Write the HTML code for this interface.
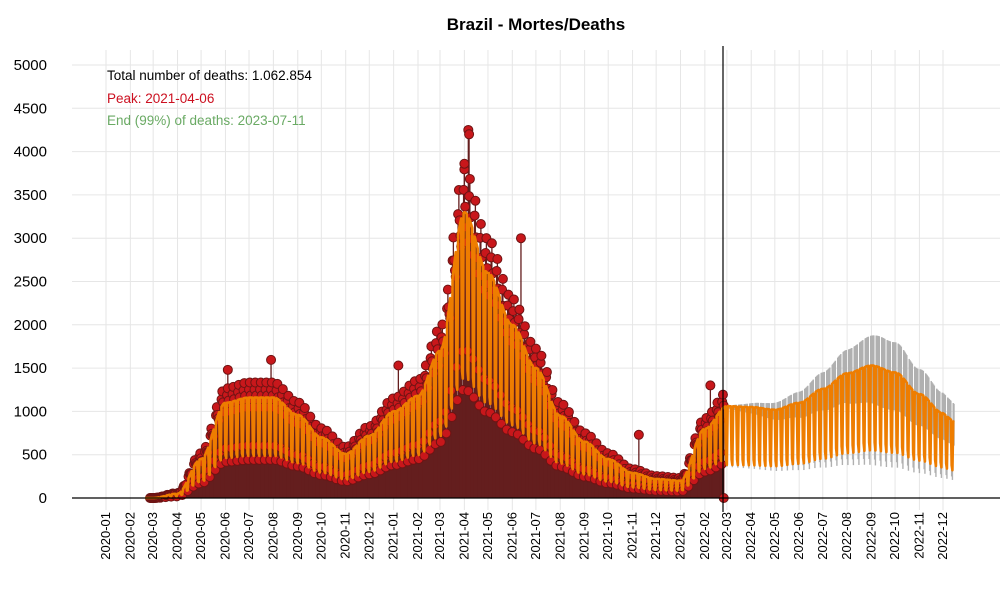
<!DOCTYPE html>
<html><head><meta charset="utf-8"><style>
body{margin:0;background:#fff}
svg{display:block;font-family:"Liberation Sans",sans-serif}
</style></head><body>
<svg id="chart" width="1000" height="600"></svg>
<script>
// Monthly upper envelope of fitted curve (first day of each month), from 2020-03 to 2022-12
const months = ["2020-03","2020-04","2020-05","2020-06","2020-07","2020-08","2020-09","2020-10","2020-11","2020-12",
"2021-01","2021-02","2021-03","2021-04","2021-05","2021-06","2021-07","2021-08","2021-09","2021-10","2021-11","2021-12",
"2022-01","2022-02","2022-03","2022-04","2022-05","2022-06","2022-07","2022-08","2022-09","2022-10","2022-11","2022-12"];
const fitTop = [0,50,450,1100,1160,1160,960,700,510,720,
1000,1180,1700,3300,2600,2000,1500,950,650,450,290,220,
200,800,1060,1050,1020,1100,1260,1440,1530,1450,1200,980];
const weekendRatio = [1,1,1,1,1,0.45,0.42];
const fcWeekendRatio = [1,1,1,1,1,0.42,0.36];
const obsDayFactor = [1.08,1.15,1.02,0.95,0.9,0.52,0.38];
const spikes = [["2021-04-06",4250],["2021-04-07",4200],["2021-04-01",3860],["2020-07-29",1595],["2021-06-12",3000],["2020-06-04",1480],["2021-01-07",1530],["2021-11-09",730],["2022-02-08",1300]];
const yTicks = [0,500,1000,1500,2000,2500,3000,3500,4000,4500,5000];
const xTickLabels = ["2020-01","2020-02","2020-03","2020-04","2020-05","2020-06","2020-07","2020-08","2020-09","2020-10","2020-11","2020-12",
"2021-01","2021-02","2021-03","2021-04","2021-05","2021-06","2021-07","2021-08","2021-09","2021-10","2021-11","2021-12",
"2022-01","2022-02","2022-03","2022-04","2022-05","2022-06","2022-07","2022-08","2022-09","2022-10","2022-11","2022-12"];
const obsStart = "2020-02-26", cutDate = "2022-02-25", fcEnd = "2022-12-15";

const svg = document.getElementById('chart');
const NS = "http://www.w3.org/2000/svg";
const DAY = 86400000, t0 = Date.UTC(2020,0,1);
const dnum = s => (Date.parse(s+(s.length==7?"-01":"")+"T00:00:00Z")-t0)/DAY;
const pxPerDay = 837/dnum("2022-12");
const X = d => 106 + d*pxPerDay;
const Y = v => 498 - v*433/5000;
function mk(tag, attrs, parent){const e=document.createElementNS(NS,tag);for(const k in attrs)e.setAttribute(k,attrs[k]);(parent||svg).appendChild(e);return e;}
const mD = months.map(dnum);
function topAt(d){
  if(d<=mD[0])return 0;
  for(let i=0;i<mD.length-1;i++){if(d<=mD[i+1]){const f=(d-mD[i])/(mD[i+1]-mD[i]);const s=f*f*(3-2*f);return fitTop[i]+(fitTop[i+1]-fitTop[i])*s;}}
  return fitTop[fitTop.length-1]+(fitTop[fitTop.length-1]-fitTop[fitTop.length-2])*(d-mD[mD.length-1])/30;
}
const grid = mk('g',{});


xTickLabels.forEach(m=>{mk('line',{x1:X(dnum(m)),x2:X(dnum(m)),y1:50,y2:510,stroke:'#e6e6e6','stroke-width':1},grid);});
yTicks.forEach(v=>{mk('line',{x1:72,x2:1000,y1:Y(v),y2:Y(v),stroke:'#e6e6e6','stroke-width':1},grid);});
const yl = mk('g',{'font-size':15,fill:'#000','text-anchor':'end'});


yTicks.forEach(v=>{const t=mk('text',{x:47,y:Y(v)+5},yl);t.textContent=v;});
const xl = mk('g',{'font-size':13,fill:'#000','text-anchor':'end'});


xTickLabels.forEach(m=>{const x=X(dnum(m))+4;const t=mk('text',{x:x,y:512,transform:`rotate(-90 ${x} 512)`},xl);t.textContent=m;});
const s0=dnum(obsStart), cD=dnum(cutDate), eD=dnum(fcEnd);
const obs=[];
for(let d=s0;d<=cD;d++){const w=((d%7)+7)%7;obs.push([d,topAt(d)*obsDayFactor[w]]);}
spikes.forEach(s=>obs.push([dnum(s[0]),s[1]]));
const stems = mk('g',{stroke:'#641e1e','stroke-width':1.3});


obs.forEach(o=>mk('line',{x1:X(o[0]),x2:X(o[0]),y1:Y(0),y2:Y(o[1])},stems));
const pts = mk('g',{fill:'#c8171b',stroke:'#6e1414','stroke-width':1});


obs.forEach(o=>mk('circle',{cx:X(o[0]),cy:Y(o[1]),r:4.5},pts));
mk('circle',{cx:X(cD),cy:Y(0),r:4.5,fill:'#c8171b',stroke:'#6e1414'},pts);
const gi = mk('g',{stroke:'#b0b0b0','stroke-width':1.4});


for(let d=Math.ceil(cD);d<=eD;d++){const w=((d%7)+7)%7;const sp=Math.min(1,(d-cD)/200)*0.24;const top=topAt(d);
  mk('line',{x1:X(d),x2:X(d),y1:Y(top*fcWeekendRatio[w]*(1+sp)),y2:Y(top*fcWeekendRatio[w]*(1-sp*1.2)-20)},gi);}
let dstr='';
for(let d=dnum("2020-02-20");d<=eD;d++){const w=((d%7)+7)%7;const r=d>cD?fcWeekendRatio[w]:weekendRatio[w];dstr+=(dstr?'L':'M')+X(d).toFixed(2)+','+Y(topAt(d)*r).toFixed(2);}
const fl=mk('path',{d:dstr,fill:'none',stroke:'#ee7d00','stroke-width':2.6,'stroke-linejoin':'round'});


const ax=mk('line',{x1:72,x2:1000,y1:Y(0),y2:Y(0),stroke:'#000','stroke-width':1.2});


const vl=mk('line',{x1:723,x2:723,y1:46,y2:512,stroke:'#000','stroke-width':1.2});


const title=mk('text',{x:536,y:30,'font-size':17,'font-weight':'bold','text-anchor':'middle'});
title.textContent='Brazil - Mortes/Deaths';


const a1=mk('text',{x:107,y:80,'font-size':13.5,fill:'#000'});a1.textContent='Total number of deaths: 1.062.854';


const a2=mk('text',{x:107,y:103,'font-size':13.5,fill:'#cc1020'});a2.textContent='Peak: 2021-04-06';


const a3=mk('text',{x:107,y:125,'font-size':13.5,fill:'#6aaa64'});a3.textContent='End (99%) of deaths: 2023-07-11';


</script>
</body></html>
